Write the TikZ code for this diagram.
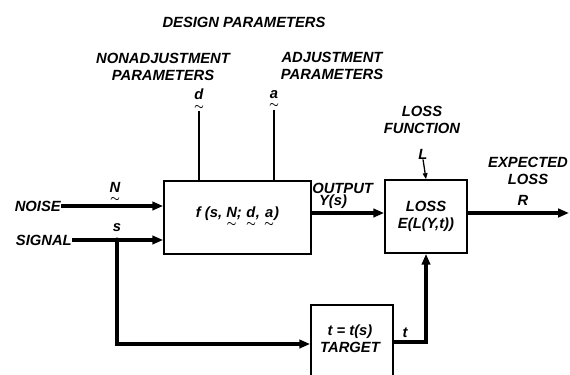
\documentclass[tikz,border=0pt]{standalone}
\usepackage{amsmath}
\usepackage{fontspec}
\setmainfont{Liberation Sans}
\usetikzlibrary{arrows.meta, positioning, calc}
\newcommand{\tld}[1]{\ensuremath{\underset{\boldsymbol{\sim}}{\text{#1}}}}

\begin{document}
\begin{tikzpicture}[
    x=0.025cm, y=-0.025cm,
    lbl/.style={font=\fontsize{10.5}{12}\selectfont\bfseries\itshape, inner sep=0pt, align=center},
    blk/.style={draw, line width=1.2pt, inner sep=0pt, align=center, font=\fontsize{10.5}{12}\selectfont\bfseries\itshape},
    arr/.style={-{Triangle[length=0.27cm, width=0.21cm]}, line width=2.2pt},
    thin arr/.style={-{Triangle[length=0.15cm, width=0.12cm]}, line width=0.9pt},
    pline/.style={line width=0.9pt}
]
\useasboundingbox (0,0) rectangle (570,374);
\clip (0,0) rectangle (570,374);

% blocks
\node[blk, minimum width=3.675cm, minimum height=1.825cm] (f) at (237.5,217.5)
    {f (s, \tld{N}; \tld{d}, \tld{a})};
\node[blk, minimum width=2.05cm, minimum height=1.825cm] (loss) at (426,216.5)
    {LOSS\\E(L(Y,t))};
\node[blk, minimum width=2.05cm, minimum height=2.5cm] (target) at (352,355) {};
\node[lbl] (tgttxt) at (350,339) {t = t(s)\\TARGET};

% parameters
\node[lbl] (design) at (244,22) {DESIGN PARAMETERS};
\node[lbl] (nonadj) at (163,67) {NONADJUSTMENT\\PARAMETERS};
\node[lbl] (adj) at (332,66) {ADJUSTMENT\\PARAMETERS};
\node[lbl] (dpar) at (199,100) {\tld{d}};
\node[lbl] (apar) at (274,100) {\tld{a}};
\draw[pline] (dpar.south) -- (dpar.south |- f.north);
\draw[pline] (apar.south) -- (apar.south |- f.north);

% inputs
\node[lbl, anchor=east] (noise) at (61,206) {NOISE};
\node[lbl, anchor=east] (signal) at (72,240) {SIGNAL};
\node[lbl] (nlbl) at (115,193) {\tld{N}};
\node[lbl] (slbl) at (117,228) {s};
\coordinate (jn) at (117,240);
\coordinate (tgtin) at (target.west |- 0,344);
\draw[arr] (noise.east) -- (noise.east -| f.west);
\draw[arr] (signal.east) -- (signal.east -| f.west);
\fill (jn) circle (1.8pt);
\draw[arr] (jn) |- (tgtin);

% output and loss
\node[lbl, anchor=west] (outlbl) at (312,188) {OUTPUT};
\node[lbl] (ys) at (333,202) {Y(s)};
\draw[arr] (f.east |- 0,213) -- (loss.west |- 0,213);
\node[lbl] (lfun) at (422,120) {LOSS\\FUNCTION};
\node[lbl] (lsym) at (423,154) {L};
\draw[thin arr] (lsym.south) -- (loss.north);
\coordinate (tout) at (target.east |- 0,342);
\node[lbl] (tlbl) at (405,333) {t};
\draw[arr] (tout) -| (loss.south);

% expected loss
\node[lbl] (explbl) at (528,171) {EXPECTED\\LOSS};
\node[lbl] (rlbl) at (523,200) {R};
\coordinate (rend) at (569,213);
\draw[arr] (loss.east |- 0,213) -- (rend);
\end{tikzpicture}
\end{document}
